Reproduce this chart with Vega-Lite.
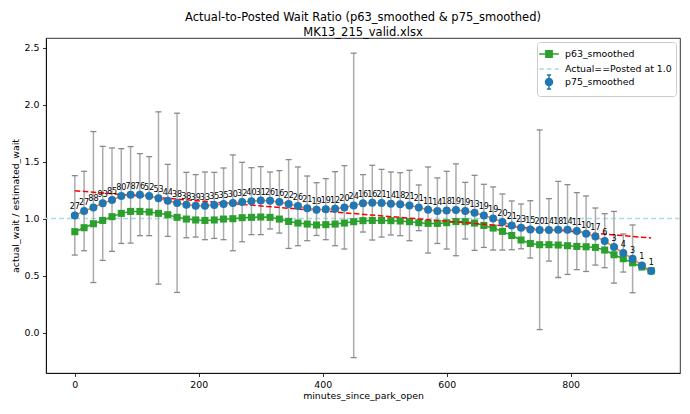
{
  "$schema": "https://vega.github.io/schema/vega-lite/v6.json",
  "autosize": "none",
  "width": 634,
  "height": 335,
  "padding": {"left": 46, "top": 38, "right": 10, "bottom": 41},
  "background": "white",
  "title": {
    "text": ["Actual-to-Posted Wait Ratio (p63_smoothed & p75_smoothed)", "MK13_215_valid.xlsx"],
    "fontSize": 11.5,
    "fontWeight": "normal",
    "font": "DejaVu Sans",
    "color": "black",
    "anchor": "middle",
    "lineHeight": 14.5,
    "offset": 0
  },
  "datasets": {
    "ratio": [
      {"m": 0, "p75": 1.028, "p63": 0.885, "lo": 0.680, "hi": 1.377, "n": 27},
      {"m": 15, "p75": 1.067, "p63": 0.920, "lo": 0.718, "hi": 1.415, "n": 27},
      {"m": 30, "p75": 1.098, "p63": 0.955, "lo": 0.439, "hi": 1.764, "n": 88},
      {"m": 45, "p75": 1.134, "p63": 0.984, "lo": 0.633, "hi": 1.634, "n": 93},
      {"m": 60, "p75": 1.163, "p63": 1.017, "lo": 0.712, "hi": 1.620, "n": 85},
      {"m": 75, "p75": 1.198, "p63": 1.046, "lo": 0.782, "hi": 1.614, "n": 80},
      {"m": 90, "p75": 1.210, "p63": 1.063, "lo": 0.785, "hi": 1.632, "n": 78},
      {"m": 105, "p75": 1.210, "p63": 1.063, "lo": 0.850, "hi": 1.570, "n": 76},
      {"m": 120, "p75": 1.198, "p63": 1.058, "lo": 0.850, "hi": 1.544, "n": 52},
      {"m": 135, "p75": 1.178, "p63": 1.046, "lo": 0.425, "hi": 1.937, "n": 53},
      {"m": 150, "p75": 1.157, "p63": 1.034, "lo": 0.844, "hi": 1.476, "n": 44},
      {"m": 165, "p75": 1.137, "p63": 1.011, "lo": 0.352, "hi": 1.925, "n": 38},
      {"m": 180, "p75": 1.122, "p63": 0.996, "lo": 0.832, "hi": 1.406, "n": 38},
      {"m": 195, "p75": 1.113, "p63": 0.988, "lo": 0.838, "hi": 1.386, "n": 39},
      {"m": 210, "p75": 1.113, "p63": 0.984, "lo": 0.815, "hi": 1.409, "n": 33},
      {"m": 225, "p75": 1.119, "p63": 0.988, "lo": 0.826, "hi": 1.406, "n": 35},
      {"m": 240, "p75": 1.128, "p63": 0.996, "lo": 0.815, "hi": 1.444, "n": 35},
      {"m": 255, "p75": 1.137, "p63": 0.999, "lo": 0.718, "hi": 1.559, "n": 30},
      {"m": 270, "p75": 1.146, "p63": 1.008, "lo": 0.797, "hi": 1.494, "n": 32},
      {"m": 285, "p75": 1.152, "p63": 1.011, "lo": 0.859, "hi": 1.447, "n": 40},
      {"m": 300, "p75": 1.158, "p63": 1.014, "lo": 0.859, "hi": 1.456, "n": 31},
      {"m": 315, "p75": 1.157, "p63": 1.011, "lo": 0.909, "hi": 1.409, "n": 26},
      {"m": 330, "p75": 1.146, "p63": 0.996, "lo": 0.873, "hi": 1.421, "n": 16},
      {"m": 345, "p75": 1.128, "p63": 0.975, "lo": 0.738, "hi": 1.518, "n": 22},
      {"m": 360, "p75": 1.111, "p63": 0.961, "lo": 0.762, "hi": 1.453, "n": 26},
      {"m": 375, "p75": 1.090, "p63": 0.952, "lo": 0.806, "hi": 1.374, "n": 21},
      {"m": 390, "p75": 1.078, "p63": 0.944, "lo": 0.852, "hi": 1.315, "n": 19},
      {"m": 405, "p75": 1.081, "p63": 0.947, "lo": 0.815, "hi": 1.351, "n": 19},
      {"m": 420, "p75": 1.087, "p63": 0.952, "lo": 0.762, "hi": 1.412, "n": 12},
      {"m": 435, "p75": 1.098, "p63": 0.961, "lo": 0.733, "hi": 1.465, "n": 20},
      {"m": 450, "p75": 1.116, "p63": 0.973, "lo": -0.220, "hi": 2.452, "n": 24},
      {"m": 465, "p75": 1.134, "p63": 0.982, "lo": 0.882, "hi": 1.386, "n": 16},
      {"m": 480, "p75": 1.140, "p63": 0.984, "lo": 0.812, "hi": 1.468, "n": 16},
      {"m": 495, "p75": 1.137, "p63": 0.984, "lo": 0.838, "hi": 1.432, "n": 21},
      {"m": 510, "p75": 1.131, "p63": 0.982, "lo": 0.856, "hi": 1.409, "n": 14},
      {"m": 525, "p75": 1.125, "p63": 0.979, "lo": 0.850, "hi": 1.403, "n": 18},
      {"m": 540, "p75": 1.116, "p63": 0.973, "lo": 0.806, "hi": 1.424, "n": 21},
      {"m": 555, "p75": 1.098, "p63": 0.964, "lo": 0.894, "hi": 1.295, "n": 21},
      {"m": 570, "p75": 1.078, "p63": 0.958, "lo": 0.698, "hi": 1.453, "n": 11},
      {"m": 585, "p75": 1.067, "p63": 0.958, "lo": 0.782, "hi": 1.357, "n": 14},
      {"m": 600, "p75": 1.072, "p63": 0.964, "lo": 0.733, "hi": 1.415, "n": 18},
      {"m": 615, "p75": 1.076, "p63": 0.974, "lo": 0.674, "hi": 1.480, "n": 19},
      {"m": 630, "p75": 1.067, "p63": 0.973, "lo": 0.821, "hi": 1.318, "n": 19},
      {"m": 645, "p75": 1.052, "p63": 0.961, "lo": 0.721, "hi": 1.380, "n": 13},
      {"m": 660, "p75": 1.028, "p63": 0.940, "lo": 0.747, "hi": 1.301, "n": 19},
      {"m": 675, "p75": 1.002, "p63": 0.917, "lo": 0.724, "hi": 1.278, "n": 19},
      {"m": 690, "p75": 0.970, "p63": 0.888, "lo": 0.724, "hi": 1.216, "n": 20},
      {"m": 705, "p75": 0.940, "p63": 0.852, "lo": 0.727, "hi": 1.155, "n": 21},
      {"m": 720, "p75": 0.920, "p63": 0.812, "lo": 0.735, "hi": 1.128, "n": 23},
      {"m": 735, "p75": 0.905, "p63": 0.782, "lo": 0.654, "hi": 1.157, "n": 15},
      {"m": 750, "p75": 0.900, "p63": 0.771, "lo": 0.026, "hi": 1.778, "n": 20},
      {"m": 765, "p75": 0.900, "p63": 0.771, "lo": 0.627, "hi": 1.175, "n": 14},
      {"m": 780, "p75": 0.902, "p63": 0.768, "lo": 0.483, "hi": 1.327, "n": 18},
      {"m": 795, "p75": 0.902, "p63": 0.762, "lo": 0.510, "hi": 1.298, "n": 14},
      {"m": 810, "p75": 0.891, "p63": 0.756, "lo": 0.552, "hi": 1.228, "n": 11},
      {"m": 825, "p75": 0.867, "p63": 0.753, "lo": 0.536, "hi": 1.199, "n": 10},
      {"m": 840, "p75": 0.844, "p63": 0.747, "lo": 0.592, "hi": 1.093, "n": 17},
      {"m": 855, "p75": 0.803, "p63": 0.724, "lo": 0.569, "hi": 1.043, "n": 6},
      {"m": 870, "p75": 0.750, "p63": 0.683, "lo": 0.434, "hi": 1.063, "n": 3},
      {"m": 885, "p75": 0.698, "p63": 0.648, "lo": 0.531, "hi": 0.865, "n": 4},
      {"m": 900, "p75": 0.648, "p63": 0.612, "lo": 0.349, "hi": 0.944, "n": 3},
      {"m": 915, "p75": 0.589, "p63": 0.575, "lo": null, "hi": null, "n": 1},
      {"m": 930, "p75": 0.540, "p63": 0.542, "lo": null, "hi": null, "n": 1}
    ],
    "trend": [
      {"m": 0, "fit": 1.245},
      {"m": 930, "fit": 0.830}
    ],
    "ref": [
      {"level": 1.0}
    ]
  },
  "data": {"name": "ratio"},
  "layer": [
    {
      "data": {"name": "ref"},
      "mark": {"type": "rule", "strokeWidth": 1.5, "strokeDash": [5, 3]},
      "encoding": {
        "y": {
          "field": "level",
          "type": "quantitative",
          "title": "actual_wait / estimated_wait",
          "scale": {"domain": [-0.355, 2.585], "nice": false, "zero": false},
          "axis": {"values": [0, 0.5, 1, 1.5, 2, 2.5], "format": ".1f"}
        },
        "color": {
          "datum": "Actual==Posted at 1.0",
          "type": "nominal",
          "scale": {
            "domain": ["p63_smoothed", "Actual==Posted at 1.0", "p75_smoothed"],
            "range": ["#2ca02c", "#add8e6", "#1f77b4"]
          },
          "legend": {
            "title": null,
            "orient": "top-right",
            "offset": 4,
            "fillColor": "white",
            "strokeColor": "#cccccc",
            "cornerRadius": 3,
            "padding": 4,
            "rowPadding": -2.5,
            "symbolSize": 196,
            "labelOffset": 8,
            "labelFontSize": 9.4,
            "labelFont": "DejaVu Sans",
            "labelColor": "black",
            "encode": {
              "symbols": {
                "update": {
                  "shape": {"signal": "datum.value === 'p63_smoothed' ? 'M-1.4,0H1.4M-0.45,-0.45H0.45V0.45H-0.45Z' : datum.value === 'p75_smoothed' ? 'M0,-1V1M-0.3,-1H0.3M-0.3,1H0.3M0.5,0A0.5,0.5,0,1,1,-0.5,0A0.5,0.5,0,1,1,0.5,0Z' : 'M-1.4,0H-0.75M-0.3,0H0.35M0.8,0H1.4'"},
                  "fill": {"signal": "datum.value === 'p63_smoothed' ? '#2ca02c' : datum.value === 'p75_smoothed' ? '#1f77b4' : 'transparent'"},
                  "stroke": {"signal": "datum.value === 'p63_smoothed' ? '#2ca02c' : datum.value === 'p75_smoothed' ? '#1f77b4' : '#add8e6'"},
                  "strokeWidth": {"value": 1.5},
                  "opacity": {"value": 1}
                }
              }
            }
          }
        }
      }
    },
    {
      "transform": [{"filter": "isValid(datum.lo)"}],
      "mark": {"type": "rule", "color": "#ababab", "strokeWidth": 1.5},
      "encoding": {
        "x": {
          "field": "m",
          "type": "quantitative",
          "title": "minutes_since_park_open",
          "scale": {"domain": [-46.5, 976.5], "nice": false, "zero": false},
          "axis": {"values": [0, 200, 400, 600, 800], "format": "d"}
        },
        "y": {"field": "lo", "type": "quantitative", "title": "actual_wait / estimated_wait"},
        "y2": {"field": "hi"}
      }
    },
    {
      "transform": [{"filter": "isValid(datum.lo)"}],
      "mark": {"type": "tick", "orient": "horizontal", "color": "#8a8a8a", "size": 6, "thickness": 1.3, "opacity": 1},
      "encoding": {
        "x": {"field": "m", "type": "quantitative", "title": "minutes_since_park_open"},
        "y": {"field": "lo", "type": "quantitative", "title": "actual_wait / estimated_wait"}
      }
    },
    {
      "transform": [{"filter": "isValid(datum.hi)"}],
      "mark": {"type": "tick", "orient": "horizontal", "color": "#8a8a8a", "size": 6, "thickness": 1.3, "opacity": 1},
      "encoding": {
        "x": {"field": "m", "type": "quantitative", "title": "minutes_since_park_open"},
        "y": {"field": "hi", "type": "quantitative", "title": "actual_wait / estimated_wait"}
      }
    },
    {
      "mark": {"type": "line", "color": "#2ca02c", "strokeWidth": 1.5},
      "encoding": {
        "x": {"field": "m", "type": "quantitative", "title": "minutes_since_park_open"},
        "y": {"field": "p63", "type": "quantitative", "title": "actual_wait / estimated_wait"}
      }
    },
    {
      "mark": {"type": "point", "shape": "square", "filled": true, "size": 50, "opacity": 1},
      "encoding": {
        "x": {"field": "m", "type": "quantitative", "title": "minutes_since_park_open"},
        "y": {"field": "p63", "type": "quantitative", "title": "actual_wait / estimated_wait"},
        "color": {"datum": "p63_smoothed", "type": "nominal"}
      }
    },
    {
      "data": {"name": "trend"},
      "mark": {"type": "line", "color": "red", "strokeWidth": 1.5, "strokeDash": [5.5, 2.5]},
      "encoding": {
        "x": {"field": "m", "type": "quantitative", "title": "minutes_since_park_open"},
        "y": {"field": "fit", "type": "quantitative", "title": "actual_wait / estimated_wait"}
      }
    },
    {
      "mark": {"type": "line", "color": "#ff7f0e", "strokeWidth": 1.5},
      "encoding": {
        "x": {"field": "m", "type": "quantitative", "title": "minutes_since_park_open"},
        "y": {"field": "p75", "type": "quantitative", "title": "actual_wait / estimated_wait"}
      }
    },
    {
      "mark": {"type": "point", "shape": "circle", "filled": true, "size": 64, "opacity": 1},
      "encoding": {
        "x": {"field": "m", "type": "quantitative", "title": "minutes_since_park_open"},
        "y": {"field": "p75", "type": "quantitative", "title": "actual_wait / estimated_wait"},
        "color": {"datum": "p75_smoothed", "type": "nominal"}
      }
    },
    {
      "mark": {"type": "text", "dy": -8, "baseline": "middle", "align": "center", "fontSize": 8, "font": "DejaVu Sans", "color": "black"},
      "encoding": {
        "x": {"field": "m", "type": "quantitative", "title": "minutes_since_park_open"},
        "y": {"field": "p75", "type": "quantitative", "title": "actual_wait / estimated_wait"},
        "text": {"field": "n", "type": "quantitative"}
      }
    }
  ],
  "config": {
    "font": "DejaVu Sans",
    "view": {"stroke": "black", "strokeWidth": 0.8},
    "axis": {
      "grid": false,
      "domainColor": "black",
      "domainWidth": 0.8,
      "tickColor": "black",
      "tickWidth": 0.8,
      "tickSize": 3.5,
      "labelPadding": 3.5,
      "labelFontSize": 9.4,
      "labelColor": "black",
      "labelFont": "DejaVu Sans",
      "titleFont": "DejaVu Sans",
      "titleFontSize": 9.4,
      "titleFontWeight": "normal",
      "titleColor": "black"
    },
    "axisX": {"titlePadding": 3},
    "axisY": {"titlePadding": 4}
  }
}
